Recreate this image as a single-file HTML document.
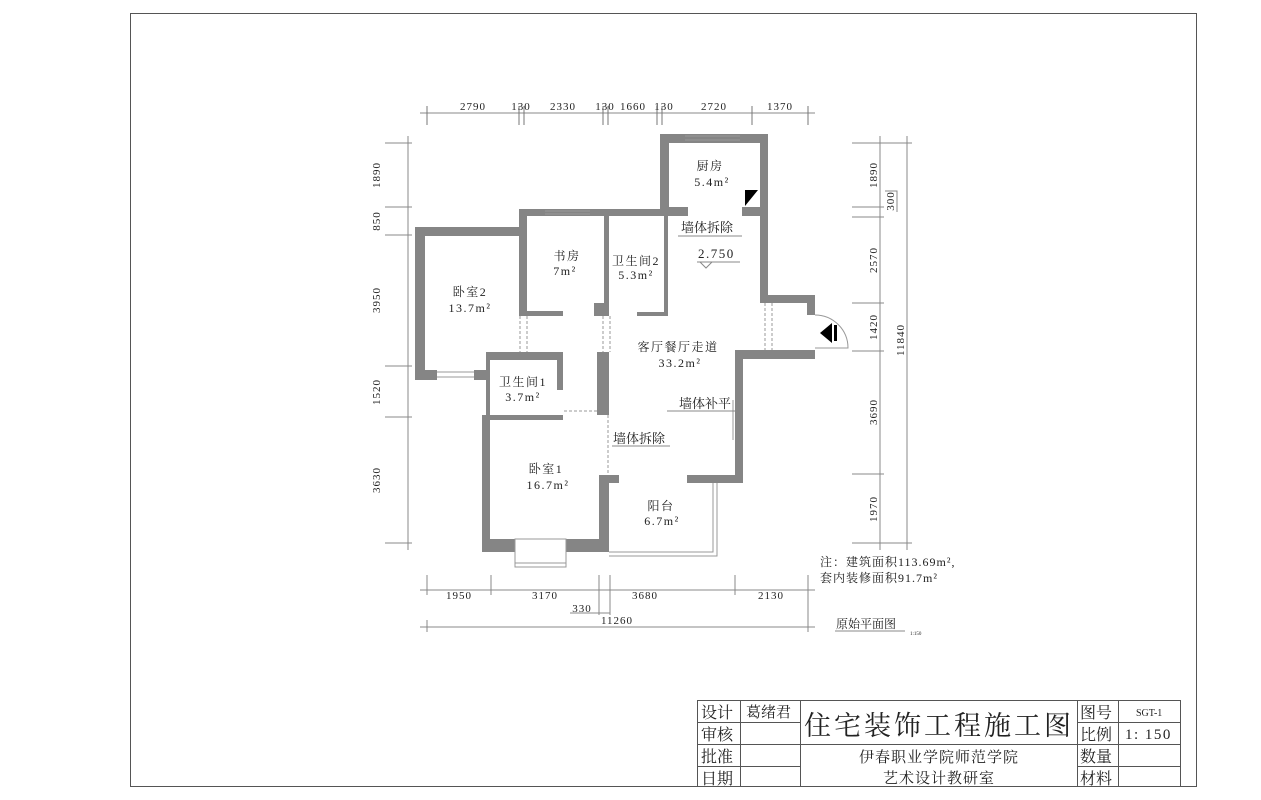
<!DOCTYPE html>
<html><head><meta charset="utf-8"><style>
body{margin:0;background:#fff}
svg{display:block}
text{font-family:"Liberation Serif","Noto Serif CJK SC","Noto Sans CJK SC",serif;fill:#222}
.d{font-size:11px;letter-spacing:1px}
.n{letter-spacing:1.5px}
</style></head><body>
<svg width="1261" height="800" viewBox="0 0 1261 800">
<rect x="130.5" y="13.5" width="1066" height="773" fill="none" stroke="#555" stroke-width="1"/>
<g fill="none" stroke="#888" stroke-width="1">
<line x1="420" y1="113" x2="815" y2="113"/>
<g stroke="#777">
<line x1="427" y1="106" x2="427" y2="125"/><line x1="519" y1="106" x2="519" y2="125"/><line x1="524" y1="106" x2="524" y2="125"/>
<line x1="603" y1="106" x2="603" y2="125"/><line x1="608" y1="106" x2="608" y2="125"/><line x1="657" y1="106" x2="657" y2="125"/>
<line x1="662" y1="106" x2="662" y2="125"/><line x1="752" y1="106" x2="752" y2="125"/><line x1="808" y1="106" x2="808" y2="125"/>
</g>
<line x1="408" y1="136" x2="408" y2="550"/>
<line x1="385" y1="143" x2="412" y2="143"/><line x1="385" y1="207" x2="412" y2="207"/><line x1="385" y1="235" x2="412" y2="235"/>
<line x1="385" y1="366" x2="412" y2="366"/><line x1="385" y1="417" x2="412" y2="417"/><line x1="385" y1="543" x2="412" y2="543"/>
<line x1="880" y1="136" x2="880" y2="550"/><line x1="907" y1="136" x2="907" y2="550"/>
<line x1="852" y1="143" x2="912" y2="143"/><line x1="852" y1="207" x2="884" y2="207"/><line x1="852" y1="217" x2="884" y2="217"/>
<line x1="852" y1="303" x2="884" y2="303"/><line x1="852" y1="351" x2="884" y2="351"/><line x1="852" y1="474" x2="884" y2="474"/>
<line x1="852" y1="543" x2="912" y2="543"/>
<polyline points="885,191 897,191 897,212"/>
<line x1="420" y1="590" x2="815" y2="590"/>
<line x1="427" y1="575" x2="427" y2="595"/><line x1="491" y1="575" x2="491" y2="595"/><line x1="599" y1="575" x2="599" y2="615"/>
<line x1="610" y1="575" x2="610" y2="615"/><line x1="735" y1="575" x2="735" y2="595"/><line x1="808" y1="575" x2="808" y2="632"/>
<line x1="420" y1="627" x2="815" y2="627"/><line x1="427" y1="620" x2="427" y2="632"/>
<line x1="570" y1="613" x2="610" y2="613"/>
<line x1="835" y1="631" x2="905" y2="631"/>
</g>
<g class="d" text-anchor="middle">
<text x="473" y="110">2790</text><text x="521" y="110">130</text><text x="563" y="110">2330</text><text x="605" y="110">130</text>
<text x="633" y="110">1660</text><text x="664" y="110">130</text><text x="714" y="110">2720</text><text x="780" y="110">1370</text>
<text x="459" y="599">1950</text><text x="545" y="599">3170</text><text x="645" y="599">3680</text><text x="771" y="599">2130</text>
<text x="582" y="612">330</text><text x="617" y="624">11260</text>
</g>
<g class="d" text-anchor="middle">
<text transform="translate(380,175) rotate(-90)">1890</text><text transform="translate(380,221) rotate(-90)">850</text>
<text transform="translate(380,300) rotate(-90)">3950</text><text transform="translate(380,392) rotate(-90)">1520</text>
<text transform="translate(380,480) rotate(-90)">3630</text>
<text transform="translate(877,175) rotate(-90)">1890</text><text transform="translate(894,201) rotate(-90)">300</text>
<text transform="translate(877,260) rotate(-90)">2570</text><text transform="translate(877,327) rotate(-90)">1420</text>
<text transform="translate(877,412) rotate(-90)">3690</text><text transform="translate(877,509) rotate(-90)">1970</text>
<text transform="translate(904,340) rotate(-90)">11840</text>
</g>
<g fill="#858585">
<rect x="660" y="134" width="108" height="9"/><rect x="660" y="134" width="9" height="82"/><rect x="660" y="207" width="28" height="9"/>
<rect x="760" y="134" width="8" height="161"/><rect x="742" y="207" width="26" height="9"/>
<rect x="760" y="295" width="55" height="8"/><rect x="807" y="295" width="8" height="20"/><rect x="735" y="350" width="80" height="9"/>
<rect x="735" y="350" width="8" height="133"/><rect x="687" y="475" width="56" height="8"/>
<rect x="519" y="209" width="169" height="7"/><rect x="519" y="209" width="8" height="106"/><rect x="519" y="311" width="44" height="5"/>
<rect x="594" y="303" width="15" height="13"/><rect x="604" y="216" width="5" height="100"/><rect x="664" y="216" width="4" height="100"/><rect x="637" y="312" width="31" height="4"/>
<rect x="415" y="227" width="104" height="9"/><rect x="415" y="227" width="10" height="153"/><rect x="415" y="370" width="22" height="10"/><rect x="474" y="370" width="16" height="10"/>
<rect x="486" y="352" width="77" height="8"/><rect x="557" y="352" width="6" height="38"/><rect x="486" y="360" width="4" height="55"/><rect x="486" y="415" width="77" height="5"/>
<rect x="482" y="415" width="8" height="137"/><rect x="482" y="539" width="33" height="13"/><rect x="566" y="539" width="43" height="13"/>
<rect x="597" y="352" width="12" height="63"/><rect x="599" y="475" width="10" height="77"/><rect x="609" y="475" width="10" height="8"/>
</g>
<g fill="none" stroke="#999" stroke-width="1">
<rect x="515" y="539" width="51" height="28"/><line x1="515" y1="563" x2="566" y2="563"/>
<line x1="437" y1="372" x2="474" y2="372"/><line x1="437" y1="377" x2="474" y2="377"/>
<line x1="685" y1="136" x2="740" y2="136"/><line x1="685" y1="140" x2="740" y2="140"/>
<line x1="545" y1="211" x2="590" y2="211"/><line x1="545" y1="214" x2="590" y2="214"/>
<polyline points="713,483 713,552 609,552"/><polyline points="717,483 717,556 609,556"/>
<line x1="520" y1="316" x2="520" y2="352" stroke-dasharray="3,2"/><line x1="527" y1="316" x2="527" y2="352" stroke-dasharray="3,2"/>
<line x1="603" y1="316" x2="603" y2="352" stroke-dasharray="3,2"/><line x1="610" y1="316" x2="610" y2="352" stroke-dasharray="3,2"/>
<line x1="765" y1="303" x2="765" y2="350" stroke-dasharray="3,2"/><line x1="772" y1="303" x2="772" y2="350" stroke-dasharray="3,2"/>
<line x1="564" y1="411" x2="599" y2="411" stroke-dasharray="3,2"/>
<line x1="608" y1="415" x2="608" y2="475" stroke-dasharray="3,2"/>
<path d="M815 315 A33 33 0 0 1 848 348 L815 348"/>
<line x1="733" y1="400" x2="733" y2="440"/>
</g>
<path d="M832 323 L820 333 L832 343 Z" fill="#000"/><rect x="834" y="325" width="3" height="16" fill="#000"/>
<path d="M745 206 L745 190 L758 190 Z" fill="#000"/>
<g font-size="12" text-anchor="middle" class="n">
<text x="710" y="170">厨房</text><text x="712" y="186">5.4m²</text>
<text x="567" y="260">书房</text><text x="565" y="275">7m²</text>
<text x="636" y="265">卫生间2</text><text x="636" y="279">5.3m²</text>
<text x="470" y="296">卧室2</text><text x="470" y="312">13.7m²</text>
<text x="678" y="351">客厅餐厅走道</text><text x="680" y="367">33.2m²</text>
<text x="523" y="386">卫生间1</text><text x="523" y="401">3.7m²</text>
<text x="546" y="473">卧室1</text><text x="548" y="489">16.7m²</text>
<text x="661" y="510">阳台</text><text x="662" y="525">6.7m²</text>
</g>
<g font-size="13">
<text x="681" y="232">墙体拆除</text><text x="698" y="258" class="n">2.750</text>
<text x="679" y="408">墙体补平</text><text x="613" y="443">墙体拆除</text>
<text x="820" y="566" font-size="12" letter-spacing="1">注：建筑面积113.69m²,</text>
<text x="820" y="582" font-size="12" letter-spacing="1">套内装修面积91.7m²</text>
<text x="836" y="628" font-size="12">原始平面图</text><text x="910" y="635" font-size="5">1:150</text>
</g>
<g stroke="#888" fill="none"><line x1="678" y1="236" x2="742" y2="236"/><line x1="697" y1="262" x2="740" y2="262"/><path d="M700 262 L706 268 L712 262"/><line x1="667" y1="411" x2="735" y2="411"/><line x1="612" y1="446" x2="670" y2="446"/></g>
<g stroke="#555" fill="none" stroke-width="1">
<rect x="697.5" y="700.5" width="483" height="86"/>
<line x1="740.5" y1="700" x2="740.5" y2="787"/><line x1="800.5" y1="700" x2="800.5" y2="787"/>
<line x1="1077.5" y1="700" x2="1077.5" y2="787"/><line x1="1118.5" y1="700" x2="1118.5" y2="787"/>
<line x1="697" y1="722.5" x2="800" y2="722.5"/><line x1="697" y1="744.5" x2="1181" y2="744.5"/><line x1="697" y1="766.5" x2="800" y2="766.5"/>
<line x1="1077" y1="722.5" x2="1181" y2="722.5"/><line x1="1077" y1="766.5" x2="1181" y2="766.5"/>
</g>
<g font-size="16">
<text x="701" y="718">设计</text><text x="701" y="740">审核</text><text x="701" y="762">批准</text><text x="701" y="784">日期</text>
<text x="746" y="717" font-size="15">葛绪君</text>
<text x="1080" y="718">图号</text><text x="1080" y="740">比例</text><text x="1080" y="762">数量</text><text x="1080" y="784">材料</text>
<text x="1136" y="716" font-size="10">SGT-1</text><text x="1125" y="739" font-size="15" letter-spacing="1.5">1: 150</text>
<text x="939" y="735" font-size="27" text-anchor="middle" letter-spacing="3">住宅装饰工程施工图</text>
<text x="939" y="762" font-size="15" text-anchor="middle" letter-spacing="1">伊春职业学院师范学院</text>
<text x="939" y="783" font-size="15" text-anchor="middle" letter-spacing="1">艺术设计教研室</text>
</g>
</svg>
</body></html>
